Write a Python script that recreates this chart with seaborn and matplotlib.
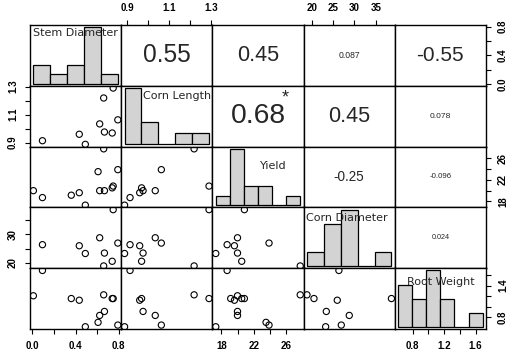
import numpy as np
import pandas as pd
import matplotlib
matplotlib.use("Agg")
import matplotlib.pyplot as plt
import seaborn as sns

nan = np.nan

# variables (12 plants, corn length / diameter missing for 3 of them)
var_names = ["Stem Diameter", "Corn Length", "Yield", "Corn Diameter", "Root Weight"]
stem_diameter = [0.660, 0.608, 0.791, 0.009, 0.093, 0.360, 0.434, 0.623, 0.667, 0.739, 0.748, 0.490]
corn_length = [1.218, nan, 1.062, nan, 0.913, nan, 0.959, 1.033, 0.975, 0.968, 1.289, 0.887]
yield_ = [27.72, 23.50, 23.87, 19.98, 18.70, 19.14, 19.60, 19.98, 19.98, 20.50, 20.83, 17.30]
corn_diameter = [18.90, nan, 26.94, nan, 26.38, nan, 26.00, 28.81, 23.43, 20.54, 38.69, 23.27]
root_weight = [1.225, 0.700, 0.648, 1.207, 1.690, 1.154, 1.122, 0.832, 0.908, 1.154, 1.154, 0.616]

# correlations shown in the upper panels (row, col)
corr_cells = [(0, 1), (0, 2), (0, 3), (0, 4), (1, 2), (1, 3), (1, 4), (2, 3), (2, 4), (3, 4)]
corr_labels = ["0.55", "0.45", "0.087", "-0.55", "0.68", "0.45", "0.078", "-0.25", "-0.096", "0.024"]
corr_stars = ["", "", "", "", "*", "", "", "", "", ""]

# histogram breaks for the diagonal
hist_bins = [
    [0.0, 0.19, 0.38, 0.57, 0.76, 0.95],
    [0.88, 0.98, 1.08, 1.18, 1.28, 1.38],
    [16, 18, 20, 22, 24, 26, 28],
    [15, 20, 25, 30, 35, 40],
    [0.6, 0.8, 1.0, 1.2, 1.4, 1.6, 1.8],
]

df = pd.DataFrame({
    "Stem Diameter": stem_diameter,
    "Corn Length": corn_length,
    "Yield": yield_,
    "Corn Diameter": corn_diameter,
    "Root Weight": root_weight,
})

# axis ticks / labels on the outer sides (R pairs style, alternating)
bottom_ticks = {0: ([0, 0.2, 0.4, 0.6, 0.8], ["0.0", "", "0.4", "", "0.8"]),
                2: ([18, 20, 22, 24, 26], ["18", "", "22", "", "26"]),
                4: ([0.8, 1.0, 1.2, 1.4, 1.6], ["0.8", "", "1.2", "", "1.6"])}
top_ticks = {1: ([0.9, 1.0, 1.1, 1.2, 1.3], ["0.9", "", "1.1", "", "1.3"]),
             3: ([20, 25, 30, 35], ["20", "25", "30", "35"])}
left_ticks = {1: ([0.9, 1.0, 1.1, 1.2, 1.3], ["0.9", "", "1.1", "", "1.3"]),
              3: ([20, 25, 30, 35], ["20", "", "30", ""])}
right_ticks = {0: ([0, 0.2, 0.4, 0.6, 0.8], ["0.0", "", "0.4", "", "0.8"]),
               2: ([18, 20, 22, 24, 26], ["18", "", "22", "", "26"]),
               4: ([0.8, 1.0, 1.2, 1.4, 1.6], ["0.8", "", "", "1.4", ""])}

label_pos = [(0.50, 0.87), (0.615, 0.84), (0.667, 0.68), (0.478, 0.82), (0.51, 0.775)]

sns.set_theme(style="white")
plt.rcParams["font.family"] = ["Liberation Sans", "DejaVu Sans"]

DPI = 100
fig, axes = plt.subplots(5, 5, figsize=(5.22, 3.61), dpi=DPI)
fig.subplots_adjust(left=30 / 522, right=486 / 522, top=1 - 25 / 361, bottom=1 - 329 / 361,
                    wspace=0, hspace=0)
panel_w = 456 / 5


def rlim(v):
    v = np.asarray(v, dtype=float)
    lo, hi = np.nanmin(v), np.nanmax(v)
    d = (hi - lo) * 0.04
    return lo - d, hi + d


def em_width(s):
    return sum(0.556 if c.isdigit() else 0.278 if c == "." else 0.333 for c in s)


n = len(var_names)
for i in range(n):
    for j in range(n):
        ax = axes[i, j]
        ax.set_xlim(rlim(df[var_names[j]]))
        ax.set_ylim(rlim(df[var_names[i]]))
        if i > j:
            sns.scatterplot(x=df[var_names[j]], y=df[var_names[i]], ax=ax, marker="o", s=20,
                            fc="none", ec="black", linewidth=0.8, legend=False)
        elif i == j:
            hax = ax.inset_axes([0, 0, 1, 1])
            edges = hist_bins[i]
            vals = df[var_names[i]].dropna()
            sns.histplot(x=vals, bins=edges, ax=hax, color="#D3D3D3", edgecolor="black",
                         linewidth=0.9, alpha=1)
            counts, _ = np.histogram(vals, bins=edges)
            span = edges[-1] - edges[0]
            hax.set_xlim(edges[0] - 0.04 * span, edges[-1] + 0.04 * span)
            hax.set_ylim(-0.04 * counts.max(), 1.04 * counts.max())
            hax.axis("off")
            lx, ly = label_pos[i]
            hax.text(lx, ly, var_names[i], transform=hax.transAxes, ha="center", va="center",
                     fontsize=8, family="DejaVu Sans", zorder=10)
        ax.set_xlabel("")
        ax.set_ylabel("")
        ax.set_xticks([])
        ax.set_yticks([])
        for sp in ax.spines.values():
            sp.set_color("black")
            sp.set_linewidth(1.0)

for k, (i, j) in enumerate(corr_cells):
    ax = axes[i, j]
    txt = corr_labels[k]
    r = abs(float(txt))
    width_px = 0.8 * panel_w * (r + 0.3) / 1.3
    fs = width_px / em_width(txt) * 72 / DPI
    ax.text(0.5, 0.5, txt, transform=ax.transAxes, ha="center", va="center", fontsize=fs)
    if corr_stars[k]:
        ax.text(0.8, 0.8, corr_stars[k], transform=ax.transAxes, ha="center", va="center",
                fontsize=13)

tick_kw = dict(direction="out", length=3.6, width=0.8, pad=5, labelsize=7, colors="black")
for j, (t, l) in bottom_ticks.items():
    ax = axes[4, j]
    ax.set_xticks(t)
    ax.set_xticklabels(l, fontweight="bold")
    ax.tick_params(axis="x", bottom=True, labelbottom=True, **tick_kw)
for j, (t, l) in top_ticks.items():
    ax = axes[0, j]
    ax.set_xticks(t)
    ax.set_xticklabels(l, fontweight="bold")
    ax.tick_params(axis="x", bottom=False, labelbottom=False, top=True, labeltop=True, **tick_kw)
for i, (t, l) in left_ticks.items():
    ax = axes[i, 0]
    ax.set_yticks(t)
    ax.set_yticklabels(l, fontweight="bold", rotation=90, va="center")
    ax.tick_params(axis="y", left=True, labelleft=True, **tick_kw)
for i, (t, l) in right_ticks.items():
    ax = axes[i, 4]
    ax.set_yticks(t)
    ax.set_yticklabels(l, fontweight="bold", rotation=90, va="center")
    ax.tick_params(axis="y", left=False, labelleft=False, right=True, labelright=True, **tick_kw)

fig.savefig("out.png", dpi=DPI)
